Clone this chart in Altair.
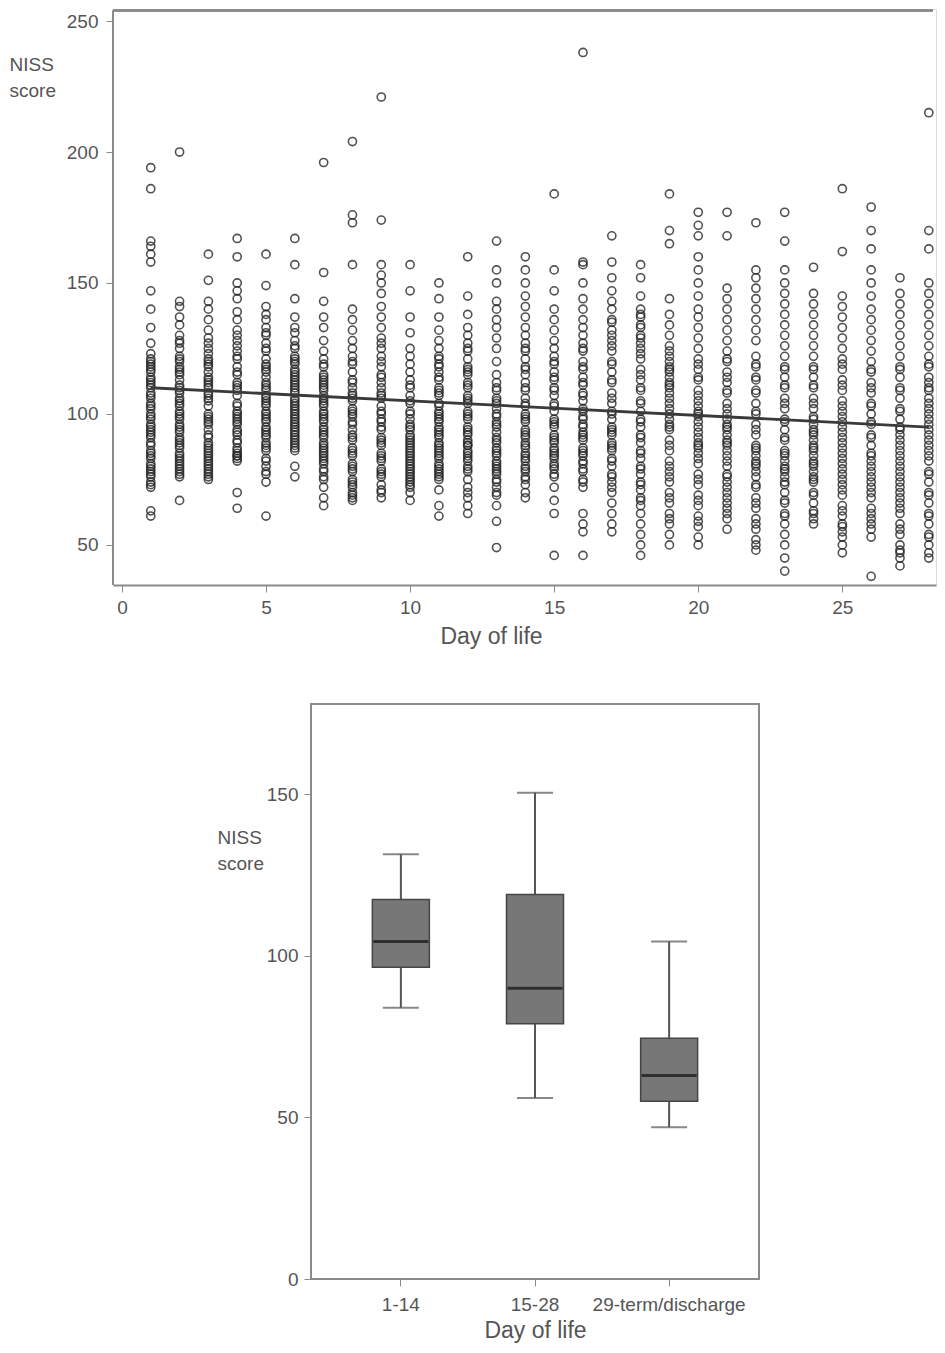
import altair as alt
import pandas as pd

# ---------------- Top panel: NISS score by day of life ----------------
days = list(range(1, 29))
scores_by_day = [
    [194, 186, 166, 164, 161, 158, 147, 140, 133, 127, 123, 121, 120, 117, 116, 113, 111, 110, 107, 104, 102, 99, 98, 95, 93, 91, 88, 85, 83, 80, 78, 76, 74, 72, 63, 61, 118, 114, 108, 96, 92, 86, 81, 77],
    [200, 143, 141, 137, 134, 130, 127, 125, 122, 120, 117, 115, 113, 110, 108, 106, 105, 101, 99, 98, 95, 93, 91, 89, 87, 85, 83, 81, 79, 77, 67, 118, 111, 103, 96, 90, 84, 80, 78],
    [161, 151, 143, 140, 136, 132, 129, 125, 123, 120, 118, 116, 114, 112, 110, 108, 106, 103, 100, 98, 96, 94, 91, 88, 86, 84, 82, 80, 78, 76, 75, 121, 113, 105, 97, 89, 85, 79],
    [167, 160, 150, 147, 144, 139, 136, 132, 128, 124, 121, 118, 115, 112, 110, 107, 103, 100, 98, 96, 94, 92, 89, 86, 84, 82, 70, 64, 85, 83, 126, 109, 101, 97],
    [161, 149, 141, 138, 136, 133, 130, 127, 124, 121, 119, 116, 114, 111, 109, 107, 105, 103, 101, 99, 97, 95, 93, 91, 89, 86, 83, 80, 77, 74, 61, 118, 112, 106, 100, 94, 88],
    [167, 157, 144, 137, 133, 131, 128, 125, 122, 120, 117, 115, 113, 111, 109, 108, 105, 103, 101, 99, 97, 95, 93, 91, 89, 87, 80, 76, 119, 114, 110, 104, 100, 96, 92, 90],
    [196, 154, 143, 137, 133, 128, 124, 121, 118, 115, 113, 111, 109, 107, 105, 103, 101, 99, 97, 95, 93, 91, 89, 87, 85, 83, 81, 78, 75, 72, 68, 65, 112, 106, 100, 94, 88, 84],
    [204, 176, 173, 157, 140, 136, 132, 128, 125, 122, 119, 116, 113, 110, 108, 105, 102, 99, 96, 94, 90, 87, 84, 81, 78, 75, 72, 70, 68, 67, 106, 100, 92, 86, 80, 74],
    [221, 174, 157, 153, 150, 146, 141, 137, 133, 129, 125, 122, 118, 115, 112, 110, 106, 103, 100, 97, 94, 91, 88, 85, 82, 79, 76, 73, 70, 68, 108, 98, 90, 84, 78],
    [157, 147, 137, 131, 125, 122, 119, 116, 113, 110, 107, 104, 101, 98, 95, 92, 89, 87, 85, 83, 81, 79, 77, 75, 73, 70, 67, 96, 90, 86, 82, 78, 74],
    [150, 144, 137, 132, 128, 125, 122, 119, 116, 113, 110, 107, 104, 101, 99, 97, 95, 93, 91, 89, 87, 85, 83, 81, 79, 77, 75, 71, 65, 61, 118, 108, 100, 94, 86, 80],
    [160, 145, 138, 133, 130, 127, 124, 121, 118, 115, 112, 110, 107, 104, 101, 98, 95, 92, 90, 88, 86, 84, 82, 80, 78, 75, 72, 68, 65, 62, 116, 106, 100, 94, 88, 83],
    [166, 155, 150, 143, 140, 136, 133, 129, 125, 120, 115, 112, 109, 106, 104, 102, 99, 96, 93, 90, 87, 84, 81, 78, 75, 72, 69, 65, 59, 49, 97, 91, 85, 80, 77],
    [160, 155, 150, 145, 141, 137, 133, 130, 127, 124, 121, 118, 115, 112, 109, 106, 103, 100, 97, 94, 91, 88, 85, 82, 79, 76, 73, 70, 68, 98, 92, 87, 83, 78],
    [184, 155, 147, 140, 136, 132, 128, 125, 122, 119, 116, 113, 110, 107, 104, 101, 98, 95, 92, 89, 86, 83, 80, 77, 72, 67, 62, 46, 96, 90, 84, 81],
    [238, 158, 157, 150, 144, 140, 136, 133, 130, 127, 124, 120, 117, 114, 111, 108, 105, 102, 99, 96, 93, 90, 87, 84, 81, 78, 75, 72, 62, 58, 55, 46, 98, 92, 86, 82],
    [168, 158, 152, 147, 143, 140, 136, 132, 128, 124, 120, 116, 112, 108, 104, 101, 98, 95, 92, 89, 86, 83, 80, 77, 74, 70, 66, 62, 58, 55, 135, 130, 94, 87],
    [157, 152, 145, 140, 137, 133, 129, 125, 121, 117, 113, 109, 105, 101, 98, 95, 92, 89, 86, 83, 80, 77, 74, 71, 68, 65, 62, 58, 54, 50, 46, 138, 134, 130, 127],
    [184, 170, 165, 144, 138, 134, 130, 126, 122, 118, 114, 110, 106, 102, 98, 94, 90, 86, 82, 78, 74, 70, 66, 62, 58, 54, 50, 120, 116, 112, 108, 100, 96],
    [177, 172, 168, 160, 155, 150, 145, 140, 137, 133, 129, 125, 121, 117, 113, 109, 105, 101, 97, 93, 89, 85, 81, 77, 73, 69, 65, 61, 57, 53, 50, 103, 99, 91, 87],
    [177, 168, 148, 144, 140, 136, 132, 128, 124, 120, 116, 112, 108, 104, 100, 96, 92, 88, 84, 80, 76, 72, 68, 64, 60, 56, 98, 94, 90, 86, 74, 70],
    [173, 155, 152, 148, 144, 140, 136, 132, 128, 122, 118, 113, 108, 104, 100, 96, 92, 88, 84, 80, 76, 72, 68, 64, 60, 56, 52, 50, 48, 86, 82, 78],
    [177, 166, 155, 150, 146, 142, 138, 134, 130, 126, 122, 118, 114, 110, 106, 102, 98, 94, 90, 86, 82, 78, 74, 70, 66, 62, 58, 54, 50, 45, 40, 84, 80, 76],
    [156, 146, 142, 138, 134, 130, 126, 122, 118, 114, 110, 106, 102, 98, 94, 90, 86, 82, 78, 74, 70, 66, 62, 60, 58, 96, 92, 88, 84, 80, 76],
    [186, 162, 145, 141, 137, 133, 129, 125, 121, 117, 113, 109, 105, 101, 97, 93, 89, 85, 81, 77, 73, 69, 65, 61, 57, 53, 50, 47, 99, 91, 83, 75],
    [179, 170, 163, 155, 150, 145, 140, 136, 132, 128, 124, 120, 116, 112, 108, 104, 100, 96, 92, 88, 84, 80, 76, 72, 68, 64, 60, 56, 53, 38, 82, 74],
    [152, 146, 142, 138, 134, 130, 126, 122, 118, 114, 110, 106, 102, 98, 94, 90, 86, 82, 78, 74, 70, 66, 62, 58, 54, 50, 47, 45, 42, 92, 84, 76, 68],
    [215, 170, 163, 150, 146, 142, 138, 134, 130, 126, 122, 118, 114, 110, 106, 102, 98, 94, 90, 86, 82, 78, 74, 70, 66, 62, 58, 54, 50, 45, 112, 104, 96, 88],
]
# further overlapping readings in the dense middle of each column
more_scores_by_day = [
    [119, 112, 106, 103, 100, 94, 89, 84, 79, 73],
    [128, 121, 116, 109, 104, 100, 94, 88, 82, 76],
    [127, 119, 111, 107, 99, 92, 87, 83, 81, 77],
    [130, 122, 116, 111, 104, 99, 93, 90, 87, 84],
    [131, 125, 117, 110, 104, 98, 92, 87, 82, 78],
    [126, 121, 116, 112, 106, 102, 98, 94, 88, 86],
    [119, 114, 110, 104, 98, 92, 86, 82, 79, 76],
    [120, 112, 107, 101, 97, 91, 85, 79, 73, 69],
    [127, 120, 114, 107, 101, 95, 89, 83, 77, 71],
    [111, 105, 100, 94, 91, 88, 84, 80, 76, 72],
    [121, 114, 109, 103, 98, 92, 88, 84, 78, 76],
    [125, 117, 111, 105, 99, 93, 89, 85, 79, 70],
    [110, 105, 100, 95, 89, 86, 82, 79, 74, 70],
    [125, 117, 110, 104, 99, 93, 89, 84, 80, 75],
    [120, 114, 109, 103, 97, 91, 87, 85, 79, 76],
    [125, 118, 112, 107, 101, 95, 91, 85, 79, 74],
    [126, 119, 113, 106, 100, 93, 88, 82, 76, 72],
    [123, 115, 110, 104, 97, 91, 85, 79, 73, 67],
    [124, 117, 111, 104, 95, 88, 80, 76, 68, 60],
    [119, 114, 107, 100, 95, 88, 83, 75, 67, 59],
    [121, 114, 109, 102, 95, 89, 82, 77, 66, 62],
    [119, 114, 109, 101, 94, 87, 81, 73, 66, 58],
    [117, 111, 104, 97, 91, 85, 79, 73, 67, 61],
    [117, 111, 104, 99, 93, 87, 81, 75, 69, 63],
    [119, 111, 103, 95, 87, 79, 71, 63, 58, 55],
    [117, 110, 103, 97, 91, 85, 78, 70, 62, 58],
    [117, 109, 101, 95, 88, 80, 72, 64, 56, 48],
    [119, 109, 100, 92, 84, 77, 69, 61, 53, 47],
]
fit_days = [1, 28]
fit_scores = [110, 95]

# ---------------- Bottom panel: box plot ----------------
groups = ["1-14", "15-28", "29-term/discharge"]
whisker_low = [84, 56, 47]
q1 = [96.5, 79, 55]
median = [104.5, 90, 63]
q3 = [117.5, 119, 74.5]
whisker_high = [131.5, 150.5, 104.5]

FONT = "Liberation Sans"
TXT = "#555555"
AXC = "#8a8a8a"

rows = [{"day": d, "score": s}
        for d, vals, extra in zip(days, scores_by_day, more_scores_by_day)
        for s in vals + extra]
scatter_df = pd.DataFrame(rows)
fit_df = pd.DataFrame({"day": fit_days, "score": fit_scores})

TOP_W = 823
TOP_H = 576
xs = alt.Scale(domain=[-0.31, 28.25], nice=False, zero=False)
ys = alt.Scale(domain=[34.7, 254.6], nice=False, zero=False)

x_axis = alt.Axis(values=[0, 5, 10, 15, 20, 25], title="Day of life", grid=False,
                  domainColor=AXC, domainWidth=2, tickColor=AXC, tickSize=7,
                  labelFontSize=19, labelColor=TXT, labelFont=FONT, labelPadding=6,
                  titleFontSize=23, titleFont=FONT, titleColor=TXT, titleFontWeight="normal",
                  titleX=378, titleY=51, titleBaseline="middle")
y_axis = alt.Axis(values=[50, 100, 150, 200, 250], title=["NISS", "score"], grid=False,
                  domain=False, tickColor=AXC, tickSize=7,
                  labelFontSize=19, labelColor=TXT, labelFont=FONT, labelPadding=8,
                  titleFontSize=19, titleFont=FONT, titleColor=TXT, titleFontWeight="normal",
                  titleAngle=0, titleAlign="left", titleBaseline="top",
                  titleX=-104, titleY=46, titleLineHeight=26)

points = alt.Chart(scatter_df).mark_point(
    shape="circle", filled=False, size=66, color="#262626", strokeWidth=1.6, opacity=0.8, clip=True
).encode(
    x=alt.X("day:Q", scale=xs, axis=x_axis),
    y=alt.Y("score:Q", scale=ys, axis=y_axis),
)
fit_line = alt.Chart(fit_df).mark_line(color="#3a3a3a", strokeWidth=2.8).encode(
    x=alt.X("day:Q", scale=xs),
    y=alt.Y("score:Q", scale=ys),
)
top_frame = alt.Chart(fit_df).mark_rule(color=AXC, strokeWidth=2.5).encode(
    x=alt.value(0), x2=alt.value(TOP_W - 3), y=alt.value(1.5)
)
left_frame = alt.Chart(fit_df).mark_rule(color=AXC, strokeWidth=2).encode(
    x=alt.value(0), y=alt.value(1.5), y2=alt.value(TOP_H)
)
top = alt.layer(points, fit_line, top_frame, left_frame).properties(width=TOP_W, height=TOP_H)

box_df = pd.DataFrame({"group": groups, "lo": whisker_low, "q1": q1, "med": median,
                       "q3": q3, "hi": whisker_high})
bx = alt.Scale(domain=groups, paddingInner=0, paddingOuter=0.17)
by = alt.Scale(domain=[0, 178], nice=False)
bx_axis = alt.Axis(title="Day of life", labelAngle=0, domain=False, tickColor=AXC, tickSize=7,
                   labelFontSize=19, labelColor=TXT, labelFont=FONT, labelPadding=9,
                   titleFontSize=23, titleFont=FONT, titleColor=TXT, titleFontWeight="normal",
                   titleY=51, titleBaseline="middle")
by_axis = alt.Axis(values=[0, 50, 100, 150], title=["NISS", "score"], grid=False, domain=False,
                   tickColor=AXC, tickSize=7, labelFontSize=19, labelColor=TXT, labelFont=FONT,
                   labelPadding=6, titleFontSize=19, titleFont=FONT, titleColor=TXT,
                   titleFontWeight="normal", titleAngle=0, titleAlign="left", titleBaseline="top",
                   titleX=-94, titleY=124, titleLineHeight=26)

base = alt.Chart(box_df)
whisk_lo = base.mark_rule(color="#555555", strokeWidth=2).encode(
    x=alt.X("group:N", scale=bx, axis=bx_axis, sort=groups),
    y=alt.Y("lo:Q", scale=by, axis=by_axis), y2="q1:Q")
whisk_hi = base.mark_rule(color="#555555", strokeWidth=2).encode(
    x=alt.X("group:N", scale=bx, sort=groups), y=alt.Y("q3:Q", scale=by), y2="hi:Q")
cap_lo = base.mark_tick(color="#555555", size=36, thickness=2).encode(
    x=alt.X("group:N", scale=bx, sort=groups), y=alt.Y("lo:Q", scale=by))
cap_hi = base.mark_tick(color="#555555", size=36, thickness=2).encode(
    x=alt.X("group:N", scale=bx, sort=groups), y=alt.Y("hi:Q", scale=by))
box = base.mark_bar(size=57, color="#777777", stroke="#454545", strokeWidth=1.5).encode(
    x=alt.X("group:N", scale=bx, sort=groups), y=alt.Y("q1:Q", scale=by), y2="q3:Q")
med = base.mark_tick(color="#111111", size=55, thickness=3).encode(
    x=alt.X("group:N", scale=bx, sort=groups), y=alt.Y("med:Q", scale=by))

bottom = alt.layer(whisk_lo, whisk_hi, cap_lo, cap_hi, box, med).properties(
    width=448, height=575,
    view=alt.ViewBackground(stroke=AXC, strokeWidth=2),
)

spacer = alt.Chart(pd.DataFrame({"a": [0]})).mark_point(opacity=0).encode(
    x=alt.X("a:Q", axis=None), y=alt.Y("a:Q", axis=None)
).properties(width=103, height=10, view=alt.ViewBackground(strokeWidth=0, strokeOpacity=0))

lower = alt.hconcat(spacer, bottom, spacing=0)

chart = alt.vconcat(top, lower, spacing=54).properties(
    padding={"left": 0, "top": 0, "right": 0, "bottom": 0}
).configure_view(strokeWidth=0).configure(background="white")

chart.save("out.html", embed_options={"renderer": "svg", "actions": False})
